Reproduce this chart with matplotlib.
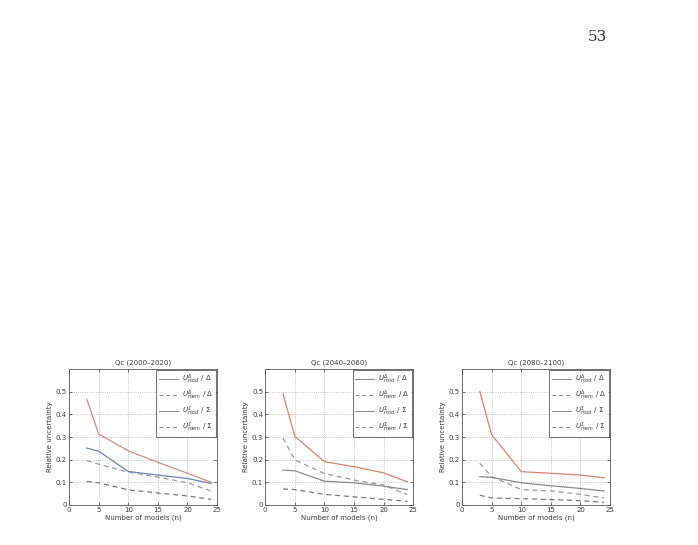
import matplotlib.pyplot as plt
import numpy as np

# Ensemble sizes on the x axis
n_models = [3, 5, 10, 15, 20, 24]

titles = ["Qc (2000\u20132020)", "Qc (2040\u20132060)", "Qc (2080\u20132100)"]

# Relative uncertainty per panel
mod_delta = [
    [0.466, 0.313, 0.239, 0.188, 0.140, 0.100],
    [0.490, 0.303, 0.191, 0.169, 0.142, 0.102],
    [0.500, 0.310, 0.147, 0.140, 0.132, 0.120],
]
mem_delta = [
    [0.196, 0.180, 0.145, 0.123, 0.098, 0.062],
    [0.295, 0.199, 0.139, 0.110, 0.088, 0.046],
    [0.184, 0.125, 0.068, 0.062, 0.047, 0.031],
]
mod_sigma = [
    [0.251, 0.237, 0.148, 0.132, 0.117, 0.095],
    [0.154, 0.151, 0.105, 0.098, 0.083, 0.068],
    [0.125, 0.122, 0.098, 0.085, 0.073, 0.062],
]
mem_sigma = [
    [0.104, 0.098, 0.067, 0.053, 0.040, 0.025],
    [0.071, 0.068, 0.047, 0.036, 0.025, 0.016],
    [0.043, 0.031, 0.028, 0.024, 0.019, 0.012],
]

legend_labels = [
    r"$U^{\Delta}_{mod}$ / $\Delta$",
    r"$U^{\Delta}_{mem}$ / $\Delta$",
    r"$U^{\Sigma}_{mod}$ / $\Sigma$",
    r"$U^{\Sigma}_{mem}$ / $\Sigma$",
]

x_ticks = [0, 5, 10, 15, 20, 25]
y_ticks = [0, 0.1, 0.2, 0.3, 0.4, 0.5]
y_tick_labels = ["0", "0.1", "0.2", "0.3", "0.4", "0.5"]

text_color = "#3a3a3a"
dash = (0, (4, 3))
fig = plt.figure(figsize=(6.98, 5.45), dpi=100)

# page number of the scanned thesis page
fig.text(0.856, 0.932, "53", family="DejaVu Serif", fontsize=11, color="#333333",
         ha="center", va="center")

lefts = [0.099, 0.380, 0.662]
red_colors = ["#d08a80", "#d9826a", "#d9826a"]
sigma_colors = ["#7080b8", "#8a8a8a", "#8a8a8a"]

for i in range(3):
    ax = fig.add_axes([lefts[i], 0.0734, 0.212, 0.2495])
    ax.plot(n_models, mod_delta[i], "-", color=red_colors[i], lw=0.9)
    ax.plot(n_models, mem_delta[i], ls=dash, color="#9a9a9a", lw=0.9)
    ax.plot(n_models, mod_sigma[i], "-", color=sigma_colors[i], lw=0.9)
    ax.plot(n_models, mem_sigma[i], ls=dash, color="#777777", lw=0.9)

    ax.set_xlim(0, 25)
    ax.set_ylim(0, 0.6)
    ax.set_xticks(x_ticks)
    ax.set_yticks(y_ticks)
    ax.set_yticklabels(y_tick_labels)
    ax.tick_params(labelsize=5, colors=text_color, length=2, width=0.5, direction="in",
                   top=True, right=True, pad=1.5)
    ax.grid(True, linestyle=":", color="#b0b0b0", lw=0.6)
    for spine in ax.spines.values():
        spine.set_linewidth(0.6)
        spine.set_color("#555555")

    ax.set_title(titles[i], fontsize=5, color=text_color, pad=3)
    ax.set_xlabel("Number of models (n)", fontsize=5, color=text_color, labelpad=1)
    ax.set_ylabel("Relative uncertainty", fontsize=5, color=text_color, labelpad=2)

    # legend uses grey line swatches like the original print
    handles = [
        plt.Line2D([], [], color="#888888", lw=0.7, ls="-"),
        plt.Line2D([], [], color="#888888", lw=0.7, ls=dash),
        plt.Line2D([], [], color="#888888", lw=0.7, ls="-"),
        plt.Line2D([], [], color="#888888", lw=0.7, ls=dash),
    ]
    leg = ax.legend(handles, legend_labels, loc="upper right", fontsize=5,
                    frameon=True, fancybox=False, edgecolor="#333333",
                    borderaxespad=0.2, handlelength=2.7, labelspacing=0.4,
                    borderpad=0.35, handletextpad=0.6)
    leg.get_frame().set_linewidth(0.6)
    for t in leg.get_texts():
        t.set_color(text_color)

fig.savefig("out.png", dpi=100)
